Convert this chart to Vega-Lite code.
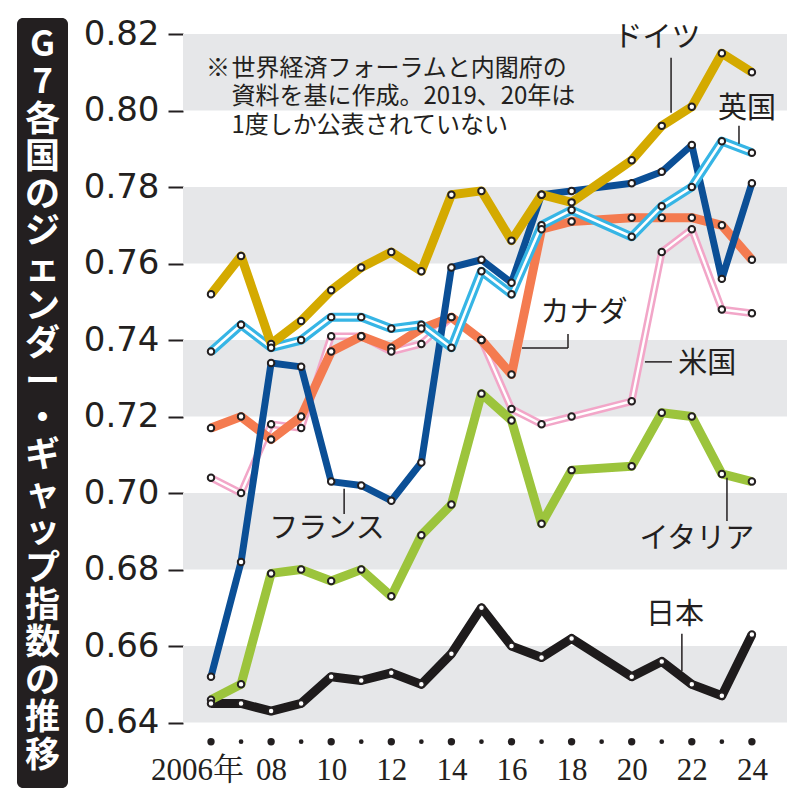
{
  "$schema": "https://vega.github.io/schema/vega-lite/v6.json",
  "background": "white",
  "padding": {"left": 17, "top": 17, "right": 5, "bottom": 5},
  "bounds": "flush",
  "spacing": 115,
  "config": {"view": {"stroke": null}, "axis": {"grid": false}},
  "datasets": {
    "series": [
      {"country": "ドイツ", "year": 2006, "value": 0.752}, {"country": "ドイツ", "year": 2007, "value": 0.762}, {"country": "ドイツ", "year": 2008, "value": 0.739}, {"country": "ドイツ", "year": 2009, "value": 0.745}, {"country": "ドイツ", "year": 2010, "value": 0.753}, {"country": "ドイツ", "year": 2011, "value": 0.759}, {"country": "ドイツ", "year": 2012, "value": 0.763}, {"country": "ドイツ", "year": 2013, "value": 0.758}, {"country": "ドイツ", "year": 2014, "value": 0.778}, {"country": "ドイツ", "year": 2015, "value": 0.779}, {"country": "ドイツ", "year": 2016, "value": 0.766}, {"country": "ドイツ", "year": 2017, "value": 0.778}, {"country": "ドイツ", "year": 2018, "value": 0.776}, {"country": "ドイツ", "year": 2020, "value": 0.787}, {"country": "ドイツ", "year": 2021, "value": 0.796}, {"country": "ドイツ", "year": 2022, "value": 0.801}, {"country": "ドイツ", "year": 2023, "value": 0.815}, {"country": "ドイツ", "year": 2024, "value": 0.810},
      {"country": "英国", "year": 2006, "value": 0.737}, {"country": "英国", "year": 2007, "value": 0.744}, {"country": "英国", "year": 2008, "value": 0.738}, {"country": "英国", "year": 2009, "value": 0.740}, {"country": "英国", "year": 2010, "value": 0.746}, {"country": "英国", "year": 2011, "value": 0.746}, {"country": "英国", "year": 2012, "value": 0.743}, {"country": "英国", "year": 2013, "value": 0.744}, {"country": "英国", "year": 2014, "value": 0.738}, {"country": "英国", "year": 2015, "value": 0.758}, {"country": "英国", "year": 2016, "value": 0.752}, {"country": "英国", "year": 2017, "value": 0.770}, {"country": "英国", "year": 2018, "value": 0.774}, {"country": "英国", "year": 2020, "value": 0.767}, {"country": "英国", "year": 2021, "value": 0.775}, {"country": "英国", "year": 2022, "value": 0.780}, {"country": "英国", "year": 2023, "value": 0.792}, {"country": "英国", "year": 2024, "value": 0.789},
      {"country": "フランス", "year": 2006, "value": 0.652}, {"country": "フランス", "year": 2007, "value": 0.682}, {"country": "フランス", "year": 2008, "value": 0.734}, {"country": "フランス", "year": 2009, "value": 0.733}, {"country": "フランス", "year": 2010, "value": 0.703}, {"country": "フランス", "year": 2011, "value": 0.702}, {"country": "フランス", "year": 2012, "value": 0.698}, {"country": "フランス", "year": 2013, "value": 0.708}, {"country": "フランス", "year": 2014, "value": 0.759}, {"country": "フランス", "year": 2015, "value": 0.761}, {"country": "フランス", "year": 2016, "value": 0.755}, {"country": "フランス", "year": 2017, "value": 0.778}, {"country": "フランス", "year": 2018, "value": 0.779}, {"country": "フランス", "year": 2020, "value": 0.781}, {"country": "フランス", "year": 2021, "value": 0.784}, {"country": "フランス", "year": 2022, "value": 0.791}, {"country": "フランス", "year": 2023, "value": 0.756}, {"country": "フランス", "year": 2024, "value": 0.781},
      {"country": "カナダ", "year": 2006, "value": 0.717}, {"country": "カナダ", "year": 2007, "value": 0.720}, {"country": "カナダ", "year": 2008, "value": 0.714}, {"country": "カナダ", "year": 2009, "value": 0.720}, {"country": "カナダ", "year": 2010, "value": 0.737}, {"country": "カナダ", "year": 2011, "value": 0.741}, {"country": "カナダ", "year": 2012, "value": 0.738}, {"country": "カナダ", "year": 2013, "value": 0.743}, {"country": "カナダ", "year": 2014, "value": 0.746}, {"country": "カナダ", "year": 2015, "value": 0.740}, {"country": "カナダ", "year": 2016, "value": 0.731}, {"country": "カナダ", "year": 2017, "value": 0.769}, {"country": "カナダ", "year": 2018, "value": 0.771}, {"country": "カナダ", "year": 2020, "value": 0.772}, {"country": "カナダ", "year": 2021, "value": 0.772}, {"country": "カナダ", "year": 2022, "value": 0.772}, {"country": "カナダ", "year": 2023, "value": 0.770}, {"country": "カナダ", "year": 2024, "value": 0.761},
      {"country": "米国", "year": 2006, "value": 0.704}, {"country": "米国", "year": 2007, "value": 0.700}, {"country": "米国", "year": 2008, "value": 0.718}, {"country": "米国", "year": 2009, "value": 0.717}, {"country": "米国", "year": 2010, "value": 0.741}, {"country": "米国", "year": 2011, "value": 0.741}, {"country": "米国", "year": 2012, "value": 0.737}, {"country": "米国", "year": 2013, "value": 0.739}, {"country": "米国", "year": 2014, "value": 0.746}, {"country": "米国", "year": 2015, "value": 0.740}, {"country": "米国", "year": 2016, "value": 0.722}, {"country": "米国", "year": 2017, "value": 0.718}, {"country": "米国", "year": 2018, "value": 0.720}, {"country": "米国", "year": 2020, "value": 0.724}, {"country": "米国", "year": 2021, "value": 0.763}, {"country": "米国", "year": 2022, "value": 0.769}, {"country": "米国", "year": 2023, "value": 0.748}, {"country": "米国", "year": 2024, "value": 0.747},
      {"country": "イタリア", "year": 2006, "value": 0.646}, {"country": "イタリア", "year": 2007, "value": 0.650}, {"country": "イタリア", "year": 2008, "value": 0.679}, {"country": "イタリア", "year": 2009, "value": 0.680}, {"country": "イタリア", "year": 2010, "value": 0.677}, {"country": "イタリア", "year": 2011, "value": 0.680}, {"country": "イタリア", "year": 2012, "value": 0.673}, {"country": "イタリア", "year": 2013, "value": 0.689}, {"country": "イタリア", "year": 2014, "value": 0.697}, {"country": "イタリア", "year": 2015, "value": 0.726}, {"country": "イタリア", "year": 2016, "value": 0.719}, {"country": "イタリア", "year": 2017, "value": 0.692}, {"country": "イタリア", "year": 2018, "value": 0.706}, {"country": "イタリア", "year": 2020, "value": 0.707}, {"country": "イタリア", "year": 2021, "value": 0.721}, {"country": "イタリア", "year": 2022, "value": 0.720}, {"country": "イタリア", "year": 2023, "value": 0.705}, {"country": "イタリア", "year": 2024, "value": 0.703},
      {"country": "日本", "year": 2006, "value": 0.645}, {"country": "日本", "year": 2007, "value": 0.645}, {"country": "日本", "year": 2008, "value": 0.643}, {"country": "日本", "year": 2009, "value": 0.645}, {"country": "日本", "year": 2010, "value": 0.652}, {"country": "日本", "year": 2011, "value": 0.651}, {"country": "日本", "year": 2012, "value": 0.653}, {"country": "日本", "year": 2013, "value": 0.650}, {"country": "日本", "year": 2014, "value": 0.658}, {"country": "日本", "year": 2015, "value": 0.670}, {"country": "日本", "year": 2016, "value": 0.660}, {"country": "日本", "year": 2017, "value": 0.657}, {"country": "日本", "year": 2018, "value": 0.662}, {"country": "日本", "year": 2020, "value": 0.652}, {"country": "日本", "year": 2021, "value": 0.656}, {"country": "日本", "year": 2022, "value": 0.650}, {"country": "日本", "year": 2023, "value": 0.647}, {"country": "日本", "year": 2024, "value": 0.663}
    ],
    "bands": [
      {"b0": 0.64, "b1": 0.66}, {"b0": 0.68, "b1": 0.70}, {"b0": 0.72, "b1": 0.74}, {"b0": 0.76, "b1": 0.78}, {"b0": 0.80, "b1": 0.82}
    ],
    "years": [
      {"year": 2006}, {"year": 2007}, {"year": 2008}, {"year": 2009}, {"year": 2010}, {"year": 2011}, {"year": 2012}, {"year": 2013}, {"year": 2014}, {"year": 2015}, {"year": 2016}, {"year": 2017}, {"year": 2018}, {"year": 2019}, {"year": 2020}, {"year": 2021}, {"year": 2022}, {"year": 2023}, {"year": 2024}
    ],
    "labels": [
      {"text": "ドイツ", "year": 2020.84, "value": 0.8190},
      {"text": "英国", "year": 2023.84, "value": 0.8004},
      {"text": "カナダ", "year": 2018.41, "value": 0.7471},
      {"text": "米国", "year": 2022.51, "value": 0.7337},
      {"text": "フランス", "year": 2009.86, "value": 0.6906},
      {"text": "イタリア", "year": 2022.17, "value": 0.6880},
      {"text": "日本", "year": 2021.44, "value": 0.6681}
    ],
    "leaders": [
      {"x1": 2021.31, "x2": 2021.31, "y1": 0.8138, "y2": 0.7994},
      {"x1": 2023.57, "x2": 2023.57, "y1": 0.7960, "y2": 0.7913},
      {"x1": 2017.88, "x2": 2017.88, "y1": 0.7416, "y2": 0.7379},
      {"x1": 2016.35, "x2": 2017.88, "y1": 0.7379, "y2": 0.7379},
      {"x1": 2020.44, "x2": 2021.34, "y1": 0.7343, "y2": 0.7343},
      {"x1": 2010.43, "x2": 2010.43, "y1": 0.7011, "y2": 0.6945},
      {"x1": 2023.17, "x2": 2023.17, "y1": 0.7040, "y2": 0.6927},
      {"x1": 2021.67, "x2": 2021.67, "y1": 0.6632, "y2": 0.6535}
    ]
  },
  "hconcat": [
    {
      "width": 51,
      "height": 770,
      "view": {"fill": "#231f20", "stroke": null, "cornerRadius": 6},
      "data": {"values": [{"title": "G\n7\n各\n国\nの\nジ\nェ\nン\nダ\nー\n・\nギ\nャ\nッ\nプ\n指\n数\nの\n推\n移", "pos": 0.9649}]},
      "mark": {"type": "text", "color": "white", "font": "Noto Sans CJK JP", "fontWeight": "bold", "fontSize": 35, "lineHeight": 37.4, "lineBreak": "\n", "align": "center", "baseline": "middle"},
      "encoding": {
        "text": {"field": "title", "type": "nominal"},
        "y": {"field": "pos", "type": "quantitative", "scale": {"domain": [0, 1], "nice": false, "zero": false}, "axis": null}
      }
    },
    {
      "width": 604,
      "height": 770,
      "layer": [
        {
          "data": {"name": "bands"},
          "mark": {"type": "rect", "color": "#e6e7e9"},
          "encoding": {
            "y": {"field": "b0", "type": "quantitative", "title": null, "scale": {"domain": [0.6229, 0.8242], "nice": false, "zero": false}},
            "y2": {"field": "b1"}
          }
        },
        {
          "data": {"name": "series"},
          "transform": [{"filter": "datum.country === '日本'"}],
          "mark": {"type": "line", "color": "#1e1b1c", "strokeWidth": 9, "strokeJoin": "round"},
          "encoding": {
            "x": {"field": "year", "type": "quantitative", "title": null,
              "scale": {"domain": [2005.068, 2025.168], "nice": false, "zero": false},
              "axis": {"values": [2006, 2008, 2010, 2012, 2014, 2016, 2018, 2020, 2022, 2024], "format": "d",
                "labelExpr": "datum.value == 2006 ? '2006年' : substring(toString(datum.value), 2)",
                "domain": false, "ticks": false, "tickSize": 0, "offset": -65, "labelPadding": 56, "labelBaseline": "alphabetic",
                "labelFont": "Liberation Serif, Noto Serif CJK JP, serif", "labelFontSize": 31, "labelColor": "#231f20",
                "labelOffset": {"condition": {"test": "datum.value == 2006", "value": -14}, "value": 0},
                "labelFlush": false, "labelOverlap": false, "title": null}},
            "y": {"field": "value", "type": "quantitative", "title": null,
              "scale": {"domain": [0.6229, 0.8242], "nice": false, "zero": false},
              "axis": {"values": [0.64, 0.66, 0.68, 0.70, 0.72, 0.74, 0.76, 0.78, 0.80, 0.82], "format": ".2f",
                "domain": false, "tickSize": 15, "tickWidth": 2, "tickColor": "#231f20", "labelPadding": 9,
                "labelFont": "DejaVu Sans", "labelFontSize": 34, "labelColor": "#231f20", "labelBaseline": "middle", "title": null}}
          }
        },
        {
          "data": {"name": "series"},
          "transform": [{"filter": "datum.country === 'イタリア'"}],
          "mark": {"type": "line", "color": "#9cc43c", "strokeWidth": 9, "strokeJoin": "round"},
          "encoding": {"x": {"field": "year", "type": "quantitative"}, "y": {"field": "value", "type": "quantitative"}}
        },
        {
          "data": {"name": "series"},
          "transform": [{"filter": "datum.country === '米国'"}],
          "mark": {"type": "line", "color": "#f2a6c8", "strokeWidth": 7.5, "strokeJoin": "round"},
          "encoding": {"x": {"field": "year", "type": "quantitative"}, "y": {"field": "value", "type": "quantitative"}}
        },
        {
          "data": {"name": "series"},
          "transform": [{"filter": "datum.country === '米国'"}],
          "mark": {"type": "line", "color": "white", "strokeWidth": 2.4, "strokeJoin": "round"},
          "encoding": {"x": {"field": "year", "type": "quantitative"}, "y": {"field": "value", "type": "quantitative"}}
        },
        {
          "data": {"name": "series"},
          "transform": [{"filter": "datum.country === 'カナダ'"}],
          "mark": {"type": "line", "color": "#f47b50", "strokeWidth": 9, "strokeJoin": "round"},
          "encoding": {"x": {"field": "year", "type": "quantitative"}, "y": {"field": "value", "type": "quantitative"}}
        },
        {
          "data": {"name": "series"},
          "transform": [{"filter": "datum.country === 'フランス'"}],
          "mark": {"type": "line", "color": "#0b4f96", "strokeWidth": 7, "strokeJoin": "round"},
          "encoding": {"x": {"field": "year", "type": "quantitative"}, "y": {"field": "value", "type": "quantitative"}}
        },
        {
          "data": {"name": "series"},
          "transform": [{"filter": "datum.country === '英国'"}],
          "mark": {"type": "line", "color": "#36b5e5", "strokeWidth": 9, "strokeJoin": "round"},
          "encoding": {"x": {"field": "year", "type": "quantitative"}, "y": {"field": "value", "type": "quantitative"}}
        },
        {
          "data": {"name": "series"},
          "transform": [{"filter": "datum.country === '英国'"}],
          "mark": {"type": "line", "color": "white", "strokeWidth": 2.6, "strokeJoin": "round"},
          "encoding": {"x": {"field": "year", "type": "quantitative"}, "y": {"field": "value", "type": "quantitative"}}
        },
        {
          "data": {"name": "series"},
          "transform": [{"filter": "datum.country === 'ドイツ'"}],
          "mark": {"type": "line", "color": "#d4aa00", "strokeWidth": 9, "strokeJoin": "round"},
          "encoding": {"x": {"field": "year", "type": "quantitative"}, "y": {"field": "value", "type": "quantitative"}}
        },
        {
          "data": {"name": "series"},
          "mark": {"type": "point", "filled": true, "fill": "white", "stroke": "#231f20", "strokeWidth": 2, "size": 42, "opacity": 1},
          "encoding": {"x": {"field": "year", "type": "quantitative"}, "y": {"field": "value", "type": "quantitative"}}
        },
        {
          "mark": {"type": "rule", "color": "#231f20", "strokeWidth": 2},
          "encoding": {
            "x": {"datum": 2005.068, "type": "quantitative"},
            "y": {"datum": 0.64, "type": "quantitative"},
            "y2": {"datum": 0.82}
          }
        },
        {
          "data": {"name": "years"},
          "mark": {"type": "circle", "color": "#231f20", "opacity": 1},
          "encoding": {
            "x": {"field": "year", "type": "quantitative"},
            "y": {"datum": 0.635, "type": "quantitative"},
            "size": {"condition": {"test": "datum.year % 2 === 0", "value": 54}, "value": 22}
          }
        },
        {
          "data": {"name": "leaders"},
          "mark": {"type": "rule", "color": "#231f20", "strokeWidth": 1.5},
          "encoding": {
            "x": {"field": "x1", "type": "quantitative"},
            "x2": {"field": "x2"},
            "y": {"field": "y1", "type": "quantitative"},
            "y2": {"field": "y2"}
          }
        },
        {
          "data": {"name": "labels"},
          "mark": {"type": "text", "font": "Noto Sans CJK JP", "fontSize": 29, "color": "#231f20", "align": "center", "baseline": "middle"},
          "encoding": {
            "x": {"field": "year", "type": "quantitative"},
            "y": {"field": "value", "type": "quantitative"},
            "text": {"field": "text", "type": "nominal"}
          }
        },
        {
          "data": {"values": [{"text": "※", "year": 2005.83, "value": 0.8109}]},
          "mark": {"type": "text", "font": "Noto Sans CJK JP", "fontSize": 24, "color": "#231f20", "align": "left", "baseline": "middle"},
          "encoding": {
            "x": {"field": "year", "type": "quantitative"},
            "y": {"field": "value", "type": "quantitative"},
            "text": {"field": "text", "type": "nominal"}
          }
        },
        {
          "data": {"values": [{"text": "世界経済フォーラムと内閣府の\n資料を基に作成。2019、20年は\n1度しか公表されていない", "year": 2006.68, "value": 0.8109}]},
          "mark": {"type": "text", "font": "Noto Sans CJK JP", "fontSize": 24, "lineHeight": 28.5, "lineBreak": "\n", "color": "#231f20", "align": "left", "baseline": "middle"},
          "encoding": {
            "x": {"field": "year", "type": "quantitative"},
            "y": {"field": "value", "type": "quantitative"},
            "text": {"field": "text", "type": "nominal"}
          }
        }
      ]
    }
  ]
}
